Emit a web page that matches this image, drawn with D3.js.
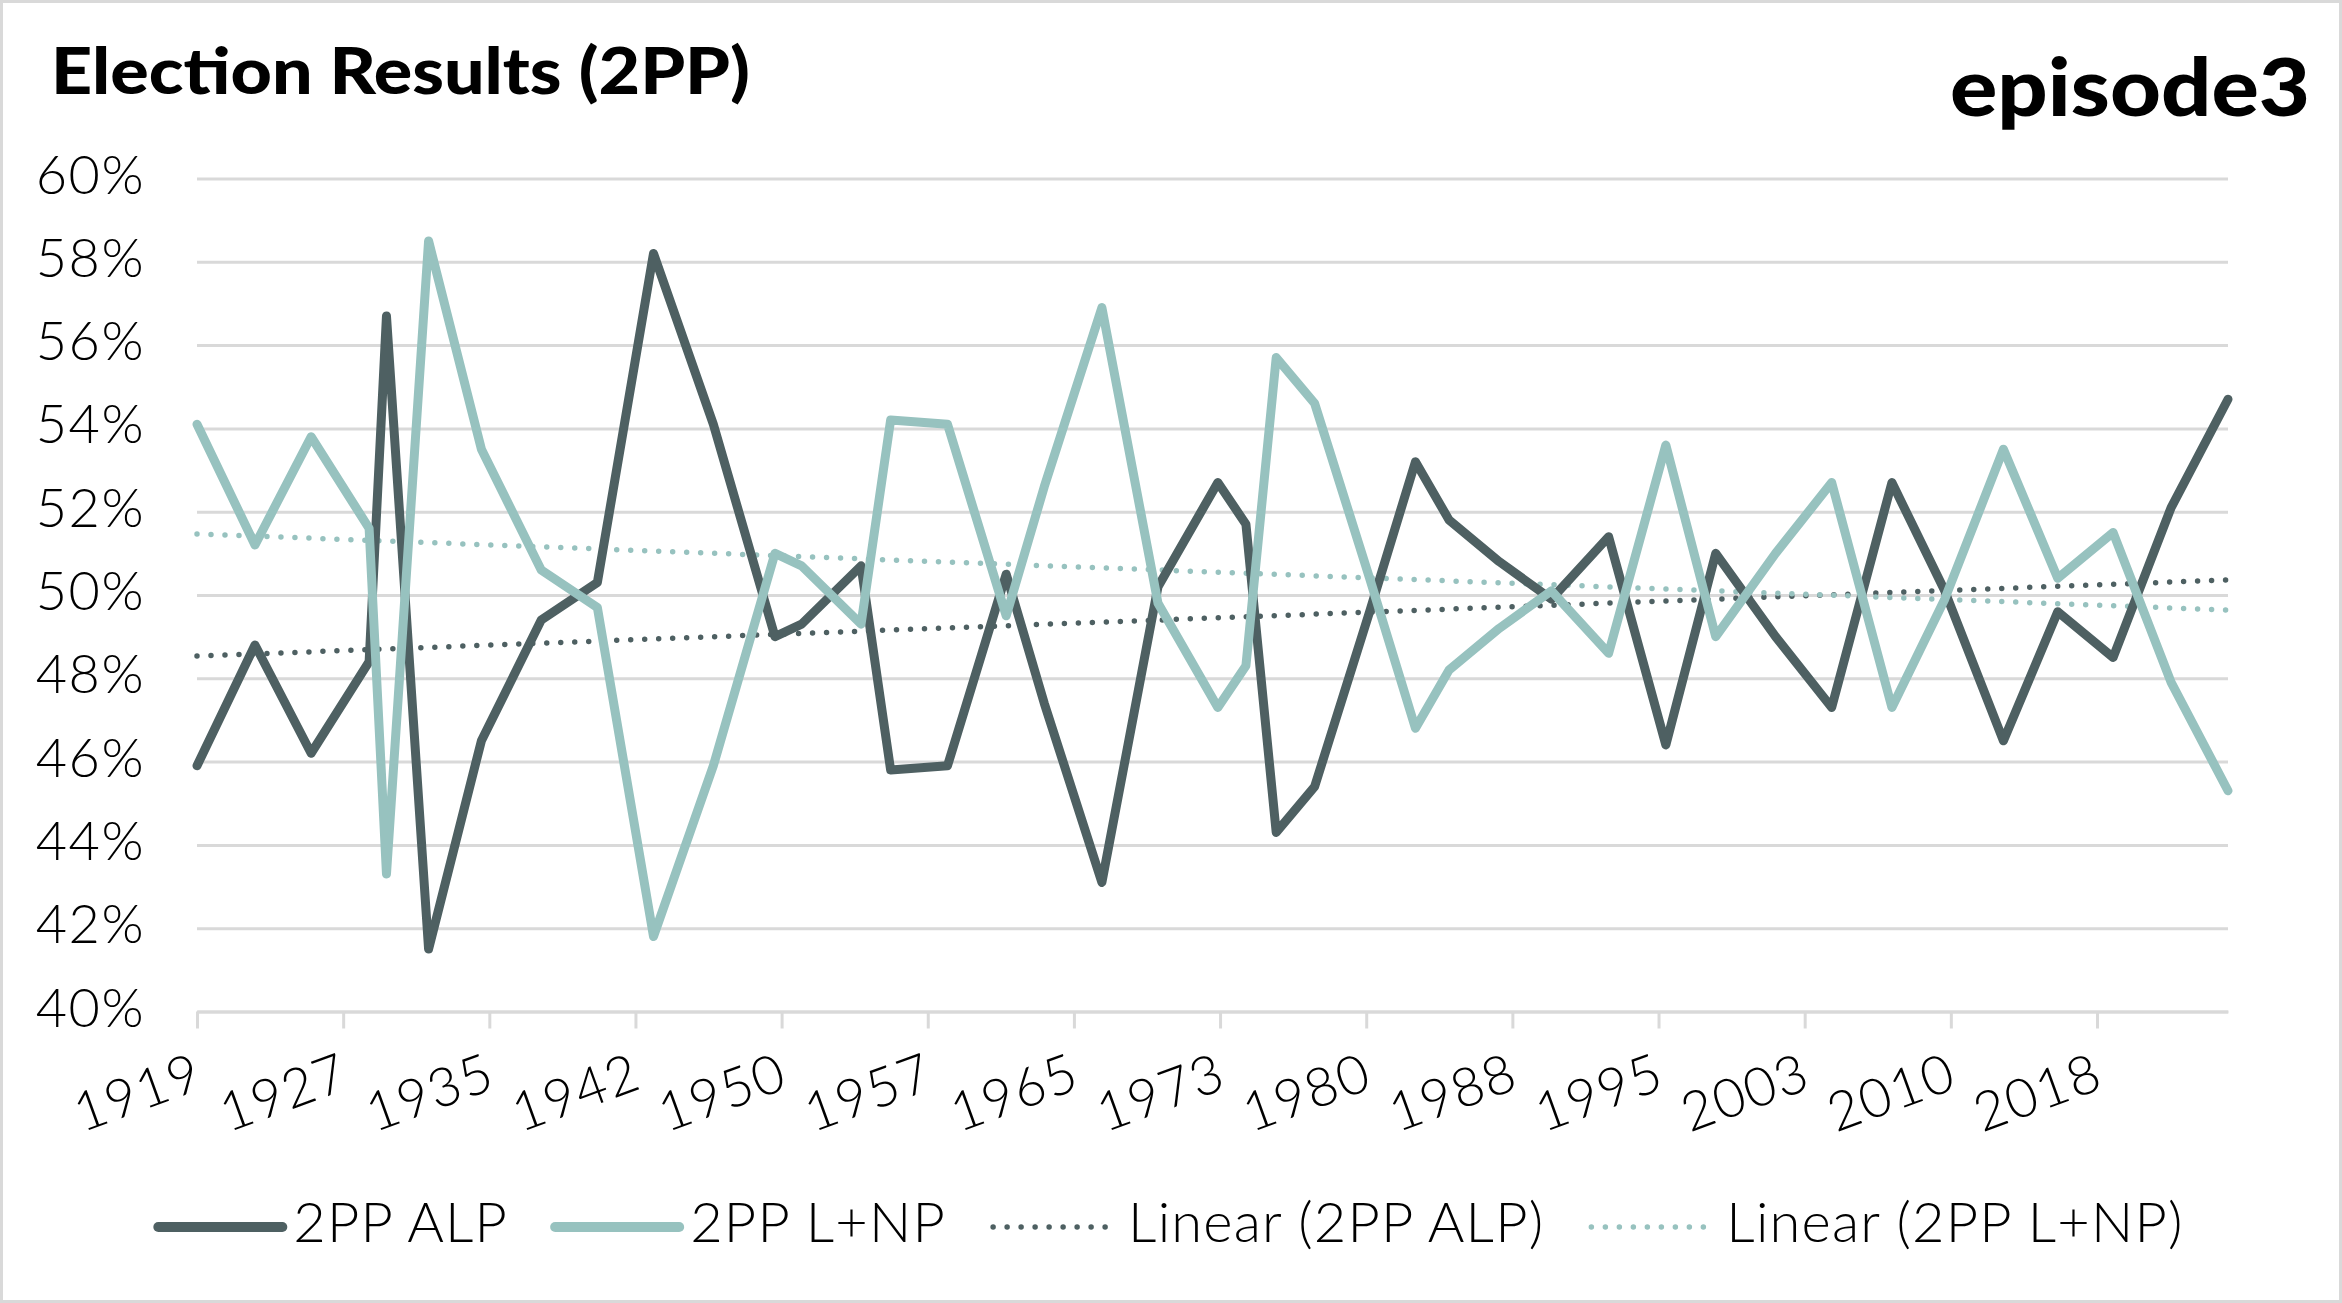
<!DOCTYPE html>
<html>
<head>
<meta charset="utf-8">
<script src="https://cdn.jsdelivr.net/npm/d3@7"></script>
<style>
  body { margin: 0; background: #fff; }
  text { font-family: Lato, "Open Sans", sans-serif; }
</style>
</head>
<body>
<svg id="chart"></svg>
<script>
// federal election dates, 1919 - 2025
const electionDates = [
  "1919-12-13", "1922-12-16", "1925-11-14", "1928-11-17", "1929-10-12", "1931-12-19",
  "1934-09-15", "1937-10-23", "1940-09-21", "1943-08-21", "1946-09-28", "1949-12-10",
  "1951-04-28", "1954-05-29", "1955-12-10", "1958-11-22", "1961-12-09", "1963-11-30",
  "1966-11-26", "1969-10-25", "1972-12-02", "1974-05-18", "1975-12-13", "1977-12-10",
  "1980-10-18", "1983-03-05", "1984-12-01", "1987-07-11", "1990-03-24", "1993-03-13",
  "1996-03-02", "1998-10-03", "2001-11-10", "2004-10-09", "2007-11-24", "2010-08-21",
  "2013-09-07", "2016-07-02", "2019-05-18", "2022-05-21", "2025-05-03"
];

// two party preferred, %
const alpShare = [
  45.9, 48.8, 46.2, 48.4, 56.7, 41.5, 46.5, 49.4, 50.3, 58.2, 54.1, 49.0,
  49.3, 50.7, 45.8, 45.9, 50.5, 47.4, 43.1, 50.2, 52.7, 51.7, 44.3, 45.4,
  49.6, 53.2, 51.8, 50.8, 49.9, 51.4, 46.4, 51.0, 49.0, 47.3, 52.7, 50.1,
  46.5, 49.6, 48.5, 52.1, 54.7
];
const coalitionShare = [
  54.1, 51.2, 53.8, 51.6, 43.3, 58.5, 53.5, 50.6, 49.7, 41.8, 45.9, 51.0,
  50.7, 49.3, 54.2, 54.1, 49.5, 52.6, 56.9, 49.8, 47.3, 48.3, 55.7, 54.6,
  50.4, 46.8, 48.2, 49.2, 50.1, 48.6, 53.6, 49.0, 51.0, 52.7, 47.3, 49.9,
  53.5, 50.4, 51.5, 47.9, 45.3
];

const yTickValues = [40, 42, 44, 46, 48, 50, 52, 54, 56, 58, 60];
const xTickLabels = ["1919", "1927", "1935", "1942", "1950", "1957", "1965",
  "1973", "1980", "1988", "1995", "2003", "2010", "2018"];
const seriesNames = ["2PP ALP", "2PP L+NP", "Linear (2PP ALP)", "Linear (2PP L+NP)"];

const width = 2342, height = 1303;
const plot = { left: 197, right: 2228, top: 178.5, bottom: 1011.5 };
const colors = { alp: "#4e6062", lnp: "#97c2bf", grid: "#d9d9d9" };

const parse = d3.timeParse("%Y-%m-%d");
const dates = electionDates.map(parse);

const svg = d3.select("#chart")
  .attr("width", width)
  .attr("height", height);

svg.append("rect")
  .attr("x", 1.5).attr("y", 1.5)
  .attr("width", width - 3).attr("height", height - 3)
  .attr("fill", "#fff")
  .attr("stroke", colors.grid)
  .attr("stroke-width", 3);

const x = d3.scaleTime()
  .domain(d3.extent(dates))
  .range([plot.left, plot.right]);

const y = d3.scaleLinear()
  .domain([40, 60])
  .range([plot.bottom, plot.top]);

// y axis + gridlines
const yAxis = svg.append("g")
  .attr("transform", `translate(${plot.left},0)`)
  .call(d3.axisLeft(y)
    .tickValues(yTickValues)
    .tickFormat(d => d + "%")
    .tickSize(-(plot.right - plot.left))
    .tickPadding(52));
yAxis.select(".domain").remove();
yAxis.selectAll("line").attr("stroke", colors.grid).attr("stroke-width", 3);
yAxis.selectAll("text")
  .attr("fill", "#000")
  .attr("dy", "0.27em")
  .style("font-size", "54px")
  .style("letter-spacing", "1.5px")
  .style("font-weight", 300);

// x axis, major unit of 2770 days from the first election
const xTicks = xTickLabels.map((_, i) => d3.timeDay.offset(dates[0], i * 2770));
const xAxis = svg.append("g")
  .attr("transform", `translate(0,${plot.bottom})`)
  .call(d3.axisBottom(x)
    .tickValues(xTicks)
    .tickFormat((d, i) => xTickLabels[i])
    .tickSizeInner(17)
    .tickSizeOuter(0));
xAxis.select(".domain").attr("stroke", colors.grid).attr("stroke-width", 3);
xAxis.selectAll("line").attr("stroke", colors.grid).attr("stroke-width", 3);
xAxis.selectAll("text")
  .attr("fill", "#000")
  .attr("y", 0)
  .attr("dy", 0)
  .attr("transform", "translate(8,76) rotate(-20)")
  .style("text-anchor", "end")
  .style("font-size", "54px")
  .style("letter-spacing", "1.5px")
  .style("font-weight", 300);

// least squares trend on the date values
function trend(values) {
  const xs = dates.map(d => +d);
  const mx = d3.mean(xs), my = d3.mean(values);
  const slope = d3.sum(xs, (v, i) => (v - mx) * (values[i] - my)) / d3.sum(xs, v => (v - mx) * (v - mx));
  const ends = d3.extent(dates);
  return ends.map(d => ({ date: d, value: my + slope * (+d - mx) }));
}

const line = d3.line()
  .x(d => x(d.date))
  .y(d => y(d.value));

const series = [
  { key: "alp", values: alpShare },
  { key: "lnp", values: coalitionShare }
];

series.forEach(s => {
  svg.append("path")
    .datum(trend(s.values))
    .attr("fill", "none")
    .attr("stroke", colors[s.key])
    .attr("stroke-width", 5.5)
    .attr("stroke-linecap", "round")
    .attr("stroke-dasharray", "0 14")
    .attr("d", line);
});

series.forEach(s => {
  svg.append("path")
    .datum(s.values.map((v, i) => ({ date: dates[i], value: v })))
    .attr("fill", "none")
    .attr("stroke", colors[s.key])
    .attr("stroke-width", 9)
    .attr("stroke-linejoin", "round")
    .attr("stroke-linecap", "round")
    .attr("d", line);
});

// title + logo
svg.append("text")
  .attr("x", 51).attr("y", 94)
  .style("font-size", "64px")
  .style("font-weight", 900)
  .attr("textLength", 699)
  .attr("lengthAdjust", "spacingAndGlyphs")
  .attr("fill", "#000")
  .text("Election Results (2PP)");

svg.append("text")
  .attr("x", 1950).attr("y", 116)
  .style("font-size", "80px")
  .style("font-weight", 900)
  .attr("textLength", 360)
  .attr("lengthAdjust", "spacingAndGlyphs")
  .attr("fill", "#000")
  .text("episode3");

// legend
const legendItems = [
  { name: seriesNames[0], color: colors.alp, dotted: false },
  { name: seriesNames[1], color: colors.lnp, dotted: false },
  { name: seriesNames[2], color: colors.alp, dotted: true },
  { name: seriesNames[3], color: colors.lnp, dotted: true }
];
const swatch = 124, swatchGap = 11, itemGap = 47, legendY = 1227;

const legend = svg.append("g");
const items = legend.selectAll("g")
  .data(legendItems)
  .enter().append("g");

items.append("line")
  .attr("x1", 0).attr("x2", swatch)
  .attr("y1", legendY).attr("y2", legendY)
  .attr("stroke", d => d.color)
  .attr("stroke-linecap", "round")
  .attr("stroke-width", d => d.dotted ? 5.5 : 10)
  .attr("stroke-dasharray", d => d.dotted ? "0 14" : null);

items.append("text")
  .attr("x", swatch + swatchGap)
  .attr("y", legendY + 15)
  .style("font-size", "56px")
  .style("letter-spacing", "1.2px")
  .style("font-weight", 300)
  .attr("fill", "#000")
  .text(d => d.name);

const widths = [];
items.each(function () {
  const w = swatch + swatchGap + d3.select(this).select("text").node().getComputedTextLength();
  widths.push(w);
});
const total = d3.sum(widths) + itemGap * (widths.length - 1);
let cursor = width / 2 - total / 2;
items.attr("transform", (d, i) => {
  const t = `translate(${cursor},0)`;
  cursor += widths[i] + itemGap;
  return t;
});
</script>
</body>
</html>
